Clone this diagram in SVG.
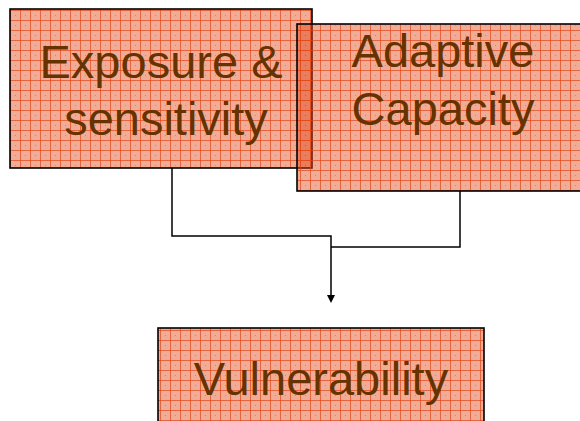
<svg xmlns="http://www.w3.org/2000/svg" width="580" height="421" viewBox="0 0 580 421">
<style>
.box{fill:url(#grid);stroke:#000;stroke-width:1.6}
.lbl{font-family:"Liberation Sans",Arial,sans-serif;font-size:47px;fill:#663300;text-anchor:middle}
.conn{fill:none;stroke:#000;stroke-width:1.5}
</style>
<defs>
<pattern id="grid" patternUnits="userSpaceOnUse" width="10" height="10">
<rect width="10" height="10" fill="#e04818" fill-opacity="0.45"/>
<path d="M0 0.5H10M0.5 0V10" stroke="#e04818" stroke-opacity="0.7" stroke-width="1"/>
<rect x="5" y="5" width="1" height="1" fill="#c03010" fill-opacity="0.35"/>
</pattern>
</defs>
<g id="connectors">
<path class="conn" d="M172 168V236H331V296"/>
<path class="conn" d="M460 191V247H331"/>
<path d="M327 295L335 295L331 303Z" fill="#000"/>
</g>
<g id="exposure">
<rect class="box" x="10" y="9" width="302" height="159"/>
<text class="lbl" x="161" y="78">Exposure &amp;</text>
<text class="lbl" x="166" y="135">sensitivity</text>
</g>
<g id="adaptive">
<rect class="box" x="297" y="24" width="290" height="167"/>
<text class="lbl" x="443" y="67">Adaptive</text>
<text class="lbl" x="443" y="125">Capacity</text>
</g>
<g id="vulnerability">
<rect class="box" x="158" y="328" width="326" height="110"/>
<text class="lbl" x="321" y="395">Vulnerability</text>
</g>
</svg>
